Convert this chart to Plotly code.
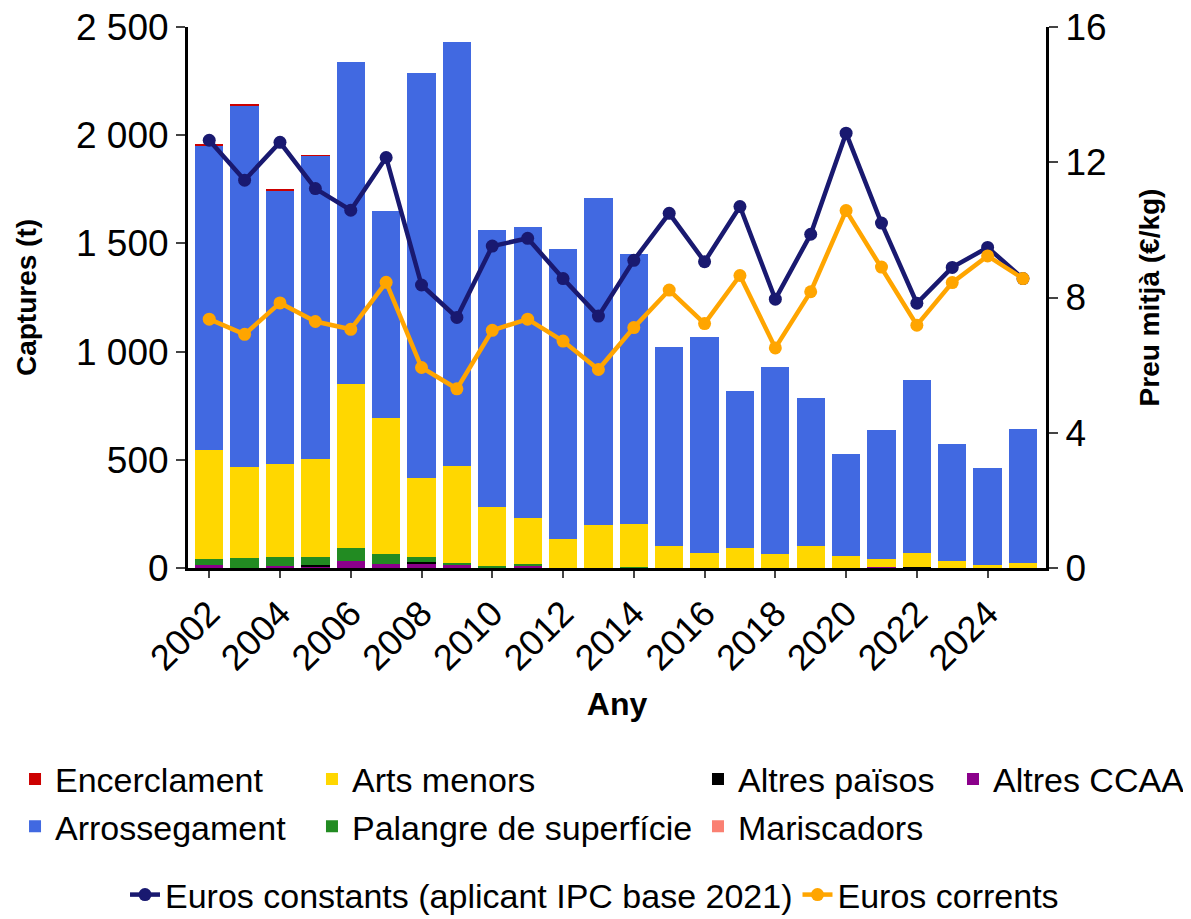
import plotly.graph_objects as go

years = list(range(2002, 2026))

encerclament   = [2, 10, 1, 2, 0, 0, 0, 0, 0, 0, 0, 0, 0, 0, 0, 0, 0, 0, 0, 0, 0, 0, 0, 0]
arrossegament  = [1409, 1671, 1266, 1403, 1487, 961, 1873, 1959, 1281, 1349, 1338, 1512,
                  1246, 917, 997, 725, 865, 682, 474, 598, 797, 541, 448, 620]
arts_menors    = [502, 417, 430, 454, 757, 625, 364, 447, 274, 212, 135, 198,
                  199, 103, 71, 92, 63, 102, 54, 36, 66, 32, 14, 23]
palangre       = [31, 48, 39, 34, 63, 48, 22, 9, 9, 6, 0, 0,
                  4, 0, 0, 0, 0, 0, 0, 0, 0, 0, 0, 0]
altres_paisos  = [0, 0, 0, 6, 0, 0, 5, 0, 0, 0, 0, 0,
                  0, 0, 0, 0, 0, 0, 0, 0, 5, 0, 0, 0]
mariscadors    = [0] * 24
altres_ccaa    = [12, 0, 11, 9, 31, 18, 23, 14, 0, 11, 0, 0,
                  0, 0, 0, 0, 0, 0, 0, 6, 0, 0, 0, 0]

euros_constants = [12.65, 11.47, 12.59, 11.22, 10.58, 12.14, 8.37, 7.41, 9.52, 9.75, 8.56, 7.45,
                   9.10, 10.49, 9.06, 10.69, 7.95, 9.87, 12.86, 10.20, 7.83, 8.89, 9.48, 8.56]
euros_corrents  = [7.36, 6.91, 7.84, 7.29, 7.06, 8.45, 5.93, 5.30, 7.03, 7.36, 6.71, 5.87,
                   7.11, 8.22, 7.23, 8.65, 6.51, 8.17, 10.57, 8.90, 7.18, 8.44, 9.23, 8.56]

left_tickvals = [0, 500, 1000, 1500, 2000, 2500]
left_ticktext = ["0", "500", "1 000", "1 500", "2 000", "2 500"]
right_tickvals = [0, 4, 8, 12, 16]
x_tickvals = list(range(2002, 2025, 2))

FONT = "Liberation Sans, Arial, sans-serif"

fig = go.Figure()

# bars: bottom of the stack first
bar_series = [
    ("Altres CCAA", altres_ccaa, "#8B008B", "legend4", 1),
    ("Mariscadors", mariscadors, "#FA8072", "legend3", 2),
    ("Altres països", altres_paisos, "#000000", "legend3", 1),
    ("Palangre de superfície", palangre, "#228B22", "legend2", 2),
    ("Arts menors", arts_menors, "#FFD700", "legend2", 1),
    ("Arrossegament", arrossegament, "#4169E1", "legend", 2),
    ("Encerclament", encerclament, "#CC0000", "legend", 1),
]
for name, vals, color, leg, rank in bar_series:
    fig.add_trace(go.Bar(
        x=years, y=vals, name=name, marker=dict(color=color, line=dict(width=0)),
        width=0.8, legend=leg, legendrank=rank, yaxis="y",
    ))

fig.add_trace(go.Scatter(
    x=years, y=euros_constants, name="Euros constants (aplicant IPC base 2021)",
    mode="lines+markers", line=dict(color="#191970", width=4.5),
    marker=dict(color="#191970", size=13), yaxis="y2", legend="legend5", legendrank=1,
))
fig.add_trace(go.Scatter(
    x=years, y=euros_corrents, name="Euros corrents",
    mode="lines+markers", line=dict(color="#FFA500", width=4.5),
    marker=dict(color="#FFA500", size=13), yaxis="y2", legend="legend5", legendrank=2,
))

legfont = dict(family=FONT, size=34, color="black")
common_leg = dict(font=legfont, bgcolor="rgba(0,0,0,0)", xanchor="left", yanchor="top",
                  orientation="v", traceorder="normal", itemclick=False, tracegroupgap=0)

# the page body adds an 8px offset; the figure is sized so it ends at the window edge
fig.update_layout(
    width=1183, height=911,
    margin=dict(l=180, r=145, t=19, b=351, autoexpand=False),
    paper_bgcolor="white", plot_bgcolor="white",
    barmode="stack",
    font=dict(family=FONT, color="black"),
    xaxis=dict(
        range=[2001.4, 2025.65], tickvals=x_tickvals, tickangle=-45,
        tickfont=dict(size=36, color="black"), ticks="outside", ticklen=7, tickwidth=2,
        showline=True, linewidth=3, linecolor="black", showgrid=False, zeroline=False,
        ticklabeloverflow="allow",
        title=dict(text="Any", font=dict(size=32, weight="bold"), standoff=16),
    ),
    yaxis=dict(
        range=[0, 2500], tickvals=left_tickvals, ticktext=left_ticktext,
        tickfont=dict(size=37, color="black"), ticks="outside", ticklen=9, tickwidth=2,
        showline=True, linewidth=3, linecolor="black", showgrid=False, zeroline=False,
        ticklabeloverflow="allow",
        title=dict(text="Captures (t)", font=dict(size=28, weight="bold"), standoff=32),
    ),
    yaxis2=dict(
        range=[0, 16], tickvals=right_tickvals, overlaying="y", side="right",
        tickfont=dict(size=37, color="black"), ticks="outside", ticklen=9, tickwidth=2,
        showline=True, linewidth=3, linecolor="black", showgrid=False, zeroline=False,
        ticklabeloverflow="allow",
        title=dict(text="Preu mitjà (€/kg)", font=dict(size=28, weight="bold"), standoff=34),
    ),
    legend=dict(x=-0.2016, y=-0.3373, **common_leg),
    legend2=dict(x=0.1445, y=-0.3373, **common_leg),
    legend3=dict(x=0.5944, y=-0.3373, **common_leg),
    legend4=dict(x=0.8916, y=-0.3373, **common_leg),
    legend5=dict(x=-0.0734, y=-0.5508, xanchor="left", yanchor="top", orientation="h",
                 font=legfont, bgcolor="rgba(0,0,0,0)", itemclick=False),
)

fig.write_html("out.html")
